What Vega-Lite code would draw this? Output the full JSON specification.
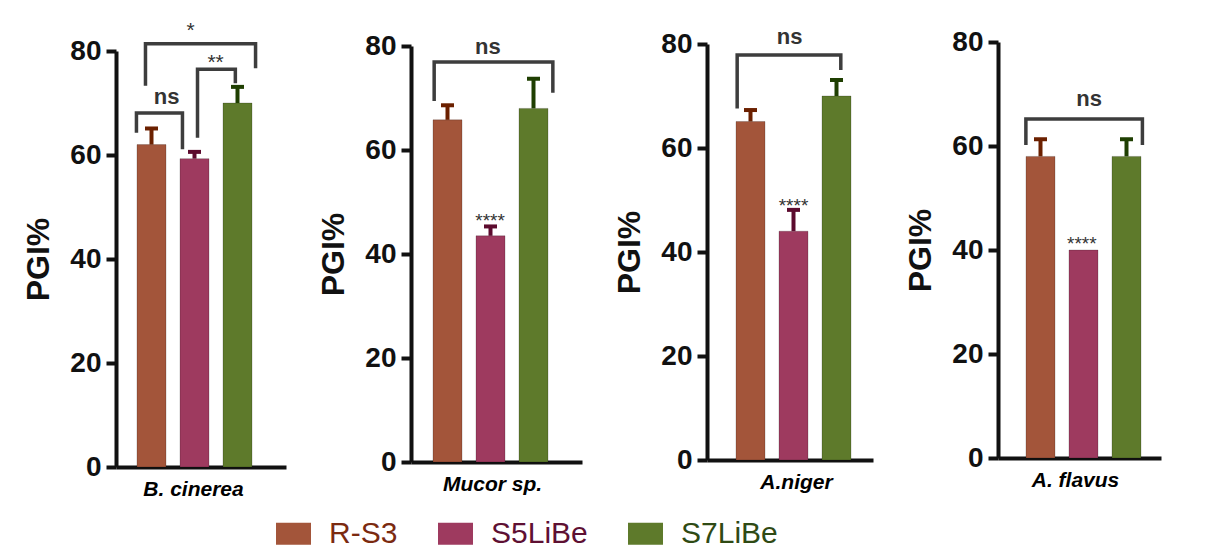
{
  "$schema": "https://vega.github.io/schema/vega-lite/v6.json",
  "padding": {"left": 22, "top": 19, "right": 5, "bottom": 5},
  "datasets": {
    "bars": [
      {"species": "B. cinerea", "strain": "R-S3", "pgi": 62, "hi": 65.1},
      {"species": "B. cinerea", "strain": "S5LiBe", "pgi": 59.3, "hi": 60.6},
      {"species": "B. cinerea", "strain": "S7LiBe", "pgi": 70, "hi": 73.1},
      {"species": "Mucor sp.", "strain": "R-S3", "pgi": 65.8, "hi": 68.6},
      {"species": "Mucor sp.", "strain": "S5LiBe", "pgi": 43.5, "hi": 45.3},
      {"species": "Mucor sp.", "strain": "S7LiBe", "pgi": 68, "hi": 73.7},
      {"species": "A.niger", "strain": "R-S3", "pgi": 65.1, "hi": 67.3},
      {"species": "A.niger", "strain": "S5LiBe", "pgi": 44, "hi": 48.1},
      {"species": "A.niger", "strain": "S7LiBe", "pgi": 70, "hi": 73.1},
      {"species": "A. flavus", "strain": "R-S3", "pgi": 58, "hi": 61.3},
      {"species": "A. flavus", "strain": "S5LiBe", "pgi": 40, "hi": 40},
      {"species": "A. flavus", "strain": "S7LiBe", "pgi": 58, "hi": 61.3}
    ],
    "brackets": [
      {"species": "B. cinerea", "id": "bc-ns", "k": 0, "gx": 0.65, "v": 64.3},
      {"species": "B. cinerea", "id": "bc-ns", "k": 1, "gx": 0.65, "v": 68.1},
      {"species": "B. cinerea", "id": "bc-ns", "k": 2, "gx": 1.72, "v": 68.1},
      {"species": "B. cinerea", "id": "bc-ns", "k": 3, "gx": 1.72, "v": 61.1},
      {"species": "B. cinerea", "id": "bc-2", "k": 0, "gx": 2.07, "v": 63.3},
      {"species": "B. cinerea", "id": "bc-2", "k": 1, "gx": 2.07, "v": 76.5},
      {"species": "B. cinerea", "id": "bc-2", "k": 2, "gx": 2.95, "v": 76.5},
      {"species": "B. cinerea", "id": "bc-2", "k": 3, "gx": 2.95, "v": 73.8},
      {"species": "B. cinerea", "id": "bc-1", "k": 0, "gx": 0.86, "v": 73.3},
      {"species": "B. cinerea", "id": "bc-1", "k": 1, "gx": 0.86, "v": 81.4},
      {"species": "B. cinerea", "id": "bc-1", "k": 2, "gx": 3.42, "v": 81.4},
      {"species": "B. cinerea", "id": "bc-1", "k": 3, "gx": 3.42, "v": 76.7},
      {"species": "Mucor sp.", "id": "mu-ns", "k": 0, "gx": 0.69, "v": 69.4},
      {"species": "Mucor sp.", "id": "mu-ns", "k": 1, "gx": 0.69, "v": 76.9},
      {"species": "Mucor sp.", "id": "mu-ns", "k": 2, "gx": 3.45, "v": 76.9},
      {"species": "Mucor sp.", "id": "mu-ns", "k": 3, "gx": 3.45, "v": 71.0},
      {"species": "A.niger", "id": "an-ns", "k": 0, "gx": 0.69, "v": 67.6},
      {"species": "A.niger", "id": "an-ns", "k": 1, "gx": 0.69, "v": 77.9},
      {"species": "A.niger", "id": "an-ns", "k": 2, "gx": 3.10, "v": 77.9},
      {"species": "A.niger", "id": "an-ns", "k": 3, "gx": 3.10, "v": 75.0},
      {"species": "A. flavus", "id": "af-ns", "k": 0, "gx": 0.66, "v": 60.2},
      {"species": "A. flavus", "id": "af-ns", "k": 1, "gx": 0.66, "v": 65.2},
      {"species": "A. flavus", "id": "af-ns", "k": 2, "gx": 3.37, "v": 65.2},
      {"species": "A. flavus", "id": "af-ns", "k": 3, "gx": 3.37, "v": 60.2}
    ],
    "labels": [
      {"species": "B. cinerea", "label": "ns", "gx": 1.35, "v": 69.9},
      {"species": "B. cinerea", "label": "**", "gx": 2.49, "v": 76.6},
      {"species": "B. cinerea", "label": "*", "gx": 1.91, "v": 82.7},
      {"species": "Mucor sp.", "label": "ns", "gx": 1.94, "v": 78.4},
      {"species": "Mucor sp.", "label": "****", "gx": 1.99, "v": 45.1},
      {"species": "A.niger", "label": "ns", "gx": 1.91, "v": 80.0},
      {"species": "A.niger", "label": "****", "gx": 2.0, "v": 47.7},
      {"species": "A. flavus", "label": "ns", "gx": 2.13, "v": 67.6},
      {"species": "A. flavus", "label": "****", "gx": 1.96, "v": 40.0}
    ]
  },
  "spacing": 31,
  "resolve": {"scale": {"color": "shared"}, "legend": {"color": "shared"}},
  "hconcat": [
    {
      "spacing": 0,
      "bounds": "flush",
      "vconcat": [
        {"width": 170, "height": 9, "data": {"values": []}, "mark": "point"},
        {
          "width": 170, "height": 416,
          "resolve": {"scale": {"x": "independent"}, "axis": {"x": "independent"}},
          "layer": [
            {
              "data": {"name": "bars"},
              "transform": [{"filter": "datum.species === 'B. cinerea'"}],
              "layer": [
                {"mark": {"type": "bar", "stroke": "#000000", "strokeOpacity": 0.2, "strokeWidth": 1},
                 "encoding": {
                   "x": {"field": "strain", "type": "nominal", "sort": null,
                         "scale": {"domain": ["R-S3", "S5LiBe", "S7LiBe"], "paddingInner": 0.32558, "paddingOuter": 0.63953, "align": 0.38182},
                         "axis": {"title": "B. cinerea", "titleX": 77, "labels": false, "ticks": false, "domainWidth": 4, "titleFontSize": 21, "titleFontWeight": "bold", "titleFontStyle": "italic", "titlePadding": 11, "titleColor": "#000000"}},
                   "y": {"field": "pgi", "type": "quantitative", "scale": {"domain": [0, 80]},
                         "axis": {"values": [0, 20, 40, 60, 80], "domainWidth": 4, "tickWidth": 4, "tickSize": 10, "labelFontSize": 28, "labelFontWeight": "bold", "labelPadding": 5, "titleFontSize": 32, "titleFontWeight": "bold", "titlePadding": 14},
                         "title": "PGI%"},
                   "color": {"field": "strain", "type": "nominal", "scale": {"domain": ["R-S3", "S5LiBe", "S7LiBe"], "range": ["#A3553A", "#9E3A5F", "#5E7A2B"]},
                             "legend": {"title": null, "orient": "none", "legendX": 160, "legendY": 474, "padding": 0, "direction": "horizontal", "symbolType": "M-1,-0.63H1V0.63H-1Z", "symbolSize": 1225, "symbolStrokeWidth": 0, "labelFont": "Liberation Sans", "labelFontSize": 30, "labelOffset": 18, "columnPadding": 40, "labelLimit": 300,
                                        "labelColor": {"expr": "datum.value === 'R-S3' ? '#7B2A10' : datum.value === 'S5LiBe' ? '#5E1033' : '#2F4A14'"}}}
                 }},
                {"transform": [{"filter": "datum.hi > datum.pgi"}],
                 "mark": {"type": "rule", "strokeWidth": 4},
                 "encoding": {
                   "x": {"field": "strain", "type": "nominal"},
                   "y": {"field": "pgi", "type": "quantitative", "title": "PGI%"},
                   "y2": {"field": "hi"},
                   "stroke": {"field": "strain", "type": "nominal", "scale": {"domain": ["R-S3", "S5LiBe", "S7LiBe"], "range": ["#6B2000", "#5C0B2E", "#1F3F02"]}, "legend": null}
                 }},
                {"transform": [{"filter": "datum.hi > datum.pgi"}],
                 "mark": {"type": "tick", "thickness": 4, "size": 13, "opacity": 1},
                 "encoding": {
                   "x": {"field": "strain", "type": "nominal"},
                   "y": {"field": "hi", "type": "quantitative", "title": "PGI%"},
                   "fill": {"field": "strain", "type": "nominal", "scale": {"domain": ["R-S3", "S5LiBe", "S7LiBe"], "range": ["#6B2000", "#5C0B2E", "#1F3F02"]}, "legend": null}
                 }}
              ]
            },
            {
              "layer": [
                {"data": {"name": "brackets"},
                 "transform": [{"filter": "datum.species === 'B. cinerea'"}],
                 "mark": {"type": "line", "color": "#3d3d3d", "strokeWidth": 3.5, "strokeJoin": "miter"},
                 "encoding": {
                   "x": {"field": "gx", "type": "quantitative", "scale": {"domain": [0.17442, 4.12791], "nice": false, "zero": false}, "axis": null},
                   "y": {"field": "v", "type": "quantitative", "title": "PGI%"},
                   "detail": {"field": "id", "type": "nominal"},
                   "order": {"field": "k", "type": "quantitative"}
                 }},
                {"data": {"name": "labels"},
                 "transform": [{"filter": "datum.species === 'B. cinerea' && datum.label === 'ns'"}],
                 "mark": {"type": "text", "fontSize": 22, "fontWeight": "bold", "color": "#333333", "baseline": "alphabetic", "align": "center"},
                 "encoding": {
                   "x": {"field": "gx", "type": "quantitative"},
                   "y": {"field": "v", "type": "quantitative", "title": "PGI%"},
                   "text": {"field": "label"}
                 }},
                {"data": {"name": "labels"},
                 "transform": [{"filter": "datum.species === 'B. cinerea' && datum.label !== 'ns'"}],
                 "mark": {"type": "text", "fontSize": 21, "color": "#333333", "baseline": "alphabetic", "align": "center"},
                 "encoding": {
                   "x": {"field": "gx", "type": "quantitative"},
                   "y": {"field": "v", "type": "quantitative", "title": "PGI%"},
                   "text": {"field": "label"}
                 }}
              ]
            }
          ]
        }
      ]
    },
    {
      "spacing": 0,
      "bounds": "flush",
      "vconcat": [
        {"width": 171, "height": 4, "data": {"values": []}, "mark": "point"},
        {
          "width": 171, "height": 416,
          "resolve": {"scale": {"x": "independent"}, "axis": {"x": "independent"}},
          "layer": [
            {
              "data": {"name": "bars"},
              "transform": [{"filter": "datum.species === 'Mucor sp.'"}],
              "layer": [
                {"mark": {"type": "bar", "stroke": "#000000", "strokeOpacity": 0.2, "strokeWidth": 1},
                 "encoding": {
                   "x": {"field": "strain", "type": "nominal", "sort": null,
                         "scale": {"domain": ["R-S3", "S5LiBe", "S7LiBe"], "paddingInner": 0.32558, "paddingOuter": 0.65116, "align": 0.39286},
                         "axis": {"title": "Mucor sp.", "titleX": 81, "labels": false, "ticks": false, "domainWidth": 4, "titleFontSize": 21, "titleFontWeight": "bold", "titleFontStyle": "italic", "titlePadding": 11, "titleColor": "#000000"}},
                   "y": {"field": "pgi", "type": "quantitative", "scale": {"domain": [0, 80]},
                         "axis": {"values": [0, 20, 40, 60, 80], "domainWidth": 4, "tickWidth": 4, "tickSize": 10, "labelFontSize": 28, "labelFontWeight": "bold", "labelPadding": 5, "titleFontSize": 32, "titleFontWeight": "bold", "titlePadding": 14},
                         "title": "PGI%"},
                   "color": {"field": "strain", "type": "nominal", "scale": {"domain": ["R-S3", "S5LiBe", "S7LiBe"], "range": ["#A3553A", "#9E3A5F", "#5E7A2B"]}}
                 }},
                {"transform": [{"filter": "datum.hi > datum.pgi"}],
                 "mark": {"type": "rule", "strokeWidth": 4},
                 "encoding": {
                   "x": {"field": "strain", "type": "nominal"},
                   "y": {"field": "pgi", "type": "quantitative", "title": "PGI%"},
                   "y2": {"field": "hi"},
                   "stroke": {"field": "strain", "type": "nominal", "scale": {"domain": ["R-S3", "S5LiBe", "S7LiBe"], "range": ["#6B2000", "#5C0B2E", "#1F3F02"]}, "legend": null}
                 }},
                {"transform": [{"filter": "datum.hi > datum.pgi"}],
                 "mark": {"type": "tick", "thickness": 4, "size": 13, "opacity": 1},
                 "encoding": {
                   "x": {"field": "strain", "type": "nominal"},
                   "y": {"field": "hi", "type": "quantitative", "title": "PGI%"},
                   "fill": {"field": "strain", "type": "nominal", "scale": {"domain": ["R-S3", "S5LiBe", "S7LiBe"], "range": ["#6B2000", "#5C0B2E", "#1F3F02"]}, "legend": null}
                 }}
              ]
            },
            {
              "layer": [
                {"data": {"name": "brackets"},
                 "transform": [{"filter": "datum.species === 'Mucor sp.'"}],
                 "mark": {"type": "line", "color": "#3d3d3d", "strokeWidth": 3.5, "strokeJoin": "miter"},
                 "encoding": {
                   "x": {"field": "gx", "type": "quantitative", "scale": {"domain": [0.15116, 4.12791], "nice": false, "zero": false}, "axis": null},
                   "y": {"field": "v", "type": "quantitative", "title": "PGI%"},
                   "detail": {"field": "id", "type": "nominal"},
                   "order": {"field": "k", "type": "quantitative"}
                 }},
                {"data": {"name": "labels"},
                 "transform": [{"filter": "datum.species === 'Mucor sp.' && datum.label === 'ns'"}],
                 "mark": {"type": "text", "fontSize": 22, "fontWeight": "bold", "color": "#333333", "baseline": "alphabetic", "align": "center"},
                 "encoding": {
                   "x": {"field": "gx", "type": "quantitative"},
                   "y": {"field": "v", "type": "quantitative", "title": "PGI%"},
                   "text": {"field": "label"}
                 }},
                {"data": {"name": "labels"},
                 "transform": [{"filter": "datum.species === 'Mucor sp.' && datum.label !== 'ns'"}],
                 "mark": {"type": "text", "fontSize": 19, "color": "#333333", "baseline": "alphabetic", "align": "center"},
                 "encoding": {
                   "x": {"field": "gx", "type": "quantitative"},
                   "y": {"field": "v", "type": "quantitative", "title": "PGI%"},
                   "text": {"field": "label"}
                 }}
              ]
            }
          ]
        }
      ]
    },
    {
      "spacing": 0,
      "bounds": "flush",
      "vconcat": [
        {"width": 166, "height": 2, "data": {"values": []}, "mark": "point"},
        {
          "width": 166, "height": 416,
          "resolve": {"scale": {"x": "independent"}, "axis": {"x": "independent"}},
          "layer": [
            {
              "data": {"name": "bars"},
              "transform": [{"filter": "datum.species === 'A.niger'"}],
              "layer": [
                {"mark": {"type": "bar", "stroke": "#000000", "strokeOpacity": 0.2, "strokeWidth": 1},
                 "encoding": {
                   "x": {"field": "strain", "type": "nominal", "sort": null,
                         "scale": {"domain": ["R-S3", "S5LiBe", "S7LiBe"], "paddingInner": 0.32558, "paddingOuter": 0.59302, "align": 0.56863},
                         "axis": {"title": "A.niger", "titleX": 89, "labels": false, "ticks": false, "domainWidth": 4, "titleFontSize": 21, "titleFontWeight": "bold", "titleFontStyle": "italic", "titlePadding": 11, "titleColor": "#000000"}},
                   "y": {"field": "pgi", "type": "quantitative", "scale": {"domain": [0, 80]},
                         "axis": {"values": [0, 20, 40, 60, 80], "domainWidth": 4, "tickWidth": 4, "tickSize": 10, "labelFontSize": 28, "labelFontWeight": "bold", "labelPadding": 5, "titleFontSize": 32, "titleFontWeight": "bold", "titlePadding": 14},
                         "title": "PGI%"},
                   "color": {"field": "strain", "type": "nominal", "scale": {"domain": ["R-S3", "S5LiBe", "S7LiBe"], "range": ["#A3553A", "#9E3A5F", "#5E7A2B"]}}
                 }},
                {"transform": [{"filter": "datum.hi > datum.pgi"}],
                 "mark": {"type": "rule", "strokeWidth": 4},
                 "encoding": {
                   "x": {"field": "strain", "type": "nominal"},
                   "y": {"field": "pgi", "type": "quantitative", "title": "PGI%"},
                   "y2": {"field": "hi"},
                   "stroke": {"field": "strain", "type": "nominal", "scale": {"domain": ["R-S3", "S5LiBe", "S7LiBe"], "range": ["#6B2000", "#5C0B2E", "#1F3F02"]}, "legend": null}
                 }},
                {"transform": [{"filter": "datum.hi > datum.pgi"}],
                 "mark": {"type": "tick", "thickness": 4, "size": 13, "opacity": 1},
                 "encoding": {
                   "x": {"field": "strain", "type": "nominal"},
                   "y": {"field": "hi", "type": "quantitative", "title": "PGI%"},
                   "fill": {"field": "strain", "type": "nominal", "scale": {"domain": ["R-S3", "S5LiBe", "S7LiBe"], "range": ["#6B2000", "#5C0B2E", "#1F3F02"]}, "legend": null}
                 }}
              ]
            },
            {
              "layer": [
                {"data": {"name": "brackets"},
                 "transform": [{"filter": "datum.species === 'A.niger'"}],
                 "mark": {"type": "line", "color": "#3d3d3d", "strokeWidth": 3.5, "strokeJoin": "miter"},
                 "encoding": {
                   "x": {"field": "gx", "type": "quantitative", "scale": {"domain": [-0.01163, 3.84884], "nice": false, "zero": false}, "axis": null},
                   "y": {"field": "v", "type": "quantitative", "title": "PGI%"},
                   "detail": {"field": "id", "type": "nominal"},
                   "order": {"field": "k", "type": "quantitative"}
                 }},
                {"data": {"name": "labels"},
                 "transform": [{"filter": "datum.species === 'A.niger' && datum.label === 'ns'"}],
                 "mark": {"type": "text", "fontSize": 22, "fontWeight": "bold", "color": "#333333", "baseline": "alphabetic", "align": "center"},
                 "encoding": {
                   "x": {"field": "gx", "type": "quantitative"},
                   "y": {"field": "v", "type": "quantitative", "title": "PGI%"},
                   "text": {"field": "label"}
                 }},
                {"data": {"name": "labels"},
                 "transform": [{"filter": "datum.species === 'A.niger' && datum.label !== 'ns'"}],
                 "mark": {"type": "text", "fontSize": 19, "color": "#333333", "baseline": "alphabetic", "align": "center"},
                 "encoding": {
                   "x": {"field": "gx", "type": "quantitative"},
                   "y": {"field": "v", "type": "quantitative", "title": "PGI%"},
                   "text": {"field": "label"}
                 }}
              ]
            }
          ]
        }
      ]
    },
    {
      "width": 163, "height": 416,
      "resolve": {"scale": {"x": "independent"}, "axis": {"x": "independent"}},
      "layer": [
        {
          "data": {"name": "bars"},
          "transform": [{"filter": "datum.species === 'A. flavus'"}],
          "layer": [
            {"mark": {"type": "bar", "stroke": "#000000", "strokeOpacity": 0.2, "strokeWidth": 1},
             "encoding": {
               "x": {"field": "strain", "type": "nominal", "sort": null,
                     "scale": {"domain": ["R-S3", "S5LiBe", "S7LiBe"], "paddingInner": 0.32558, "paddingOuter": 0.55814, "align": 0.58333},
                     "axis": {"title": "A. flavus", "titleX": 77, "labels": false, "ticks": false, "domainWidth": 4, "titleFontSize": 21, "titleFontWeight": "bold", "titleFontStyle": "italic", "titlePadding": 11, "titleColor": "#000000"}},
               "y": {"field": "pgi", "type": "quantitative", "scale": {"domain": [0, 80]},
                     "axis": {"values": [0, 20, 40, 60, 80], "domainWidth": 4, "tickWidth": 4, "tickSize": 10, "labelFontSize": 28, "labelFontWeight": "bold", "labelPadding": 5, "titleFontSize": 32, "titleFontWeight": "bold", "titlePadding": 14},
                     "title": "PGI%"},
               "color": {"field": "strain", "type": "nominal", "scale": {"domain": ["R-S3", "S5LiBe", "S7LiBe"], "range": ["#A3553A", "#9E3A5F", "#5E7A2B"]}}
             }},
            {"transform": [{"filter": "datum.hi > datum.pgi"}],
             "mark": {"type": "rule", "strokeWidth": 4},
             "encoding": {
               "x": {"field": "strain", "type": "nominal"},
               "y": {"field": "pgi", "type": "quantitative", "title": "PGI%"},
               "y2": {"field": "hi"},
               "stroke": {"field": "strain", "type": "nominal", "scale": {"domain": ["R-S3", "S5LiBe", "S7LiBe"], "range": ["#6B2000", "#5C0B2E", "#1F3F02"]}, "legend": null}
             }},
            {"transform": [{"filter": "datum.hi > datum.pgi"}],
             "mark": {"type": "tick", "thickness": 4, "size": 13, "opacity": 1},
             "encoding": {
               "x": {"field": "strain", "type": "nominal"},
               "y": {"field": "hi", "type": "quantitative", "title": "PGI%"},
               "fill": {"field": "strain", "type": "nominal", "scale": {"domain": ["R-S3", "S5LiBe", "S7LiBe"], "range": ["#6B2000", "#5C0B2E", "#1F3F02"]}, "legend": null}
             }}
          ]
        },
        {
          "layer": [
            {"data": {"name": "brackets"},
             "transform": [{"filter": "datum.species === 'A. flavus'"}],
             "mark": {"type": "line", "color": "#3d3d3d", "strokeWidth": 3.5, "strokeJoin": "miter"},
             "encoding": {
               "x": {"field": "gx", "type": "quantitative", "scale": {"domain": [0.01163, 3.80233], "nice": false, "zero": false}, "axis": null},
               "y": {"field": "v", "type": "quantitative", "title": "PGI%"},
               "detail": {"field": "id", "type": "nominal"},
               "order": {"field": "k", "type": "quantitative"}
             }},
            {"data": {"name": "labels"},
             "transform": [{"filter": "datum.species === 'A. flavus' && datum.label === 'ns'"}],
             "mark": {"type": "text", "fontSize": 22, "fontWeight": "bold", "color": "#333333", "baseline": "alphabetic", "align": "center"},
             "encoding": {
               "x": {"field": "gx", "type": "quantitative"},
               "y": {"field": "v", "type": "quantitative", "title": "PGI%"},
               "text": {"field": "label"}
             }},
            {"data": {"name": "labels"},
             "transform": [{"filter": "datum.species === 'A. flavus' && datum.label !== 'ns'"}],
             "mark": {"type": "text", "fontSize": 19, "color": "#333333", "baseline": "alphabetic", "align": "center"},
             "encoding": {
               "x": {"field": "gx", "type": "quantitative"},
               "y": {"field": "v", "type": "quantitative", "title": "PGI%"},
               "text": {"field": "label"}
             }}
          ]
        }
      ]
    }
  ],
  "config": {
    "font": "Liberation Sans",
    "view": {"stroke": null},
    "axis": {"domainColor": "#111111", "tickColor": "#111111", "labelColor": "#111111", "titleColor": "#111111", "grid": false}
  }
}
